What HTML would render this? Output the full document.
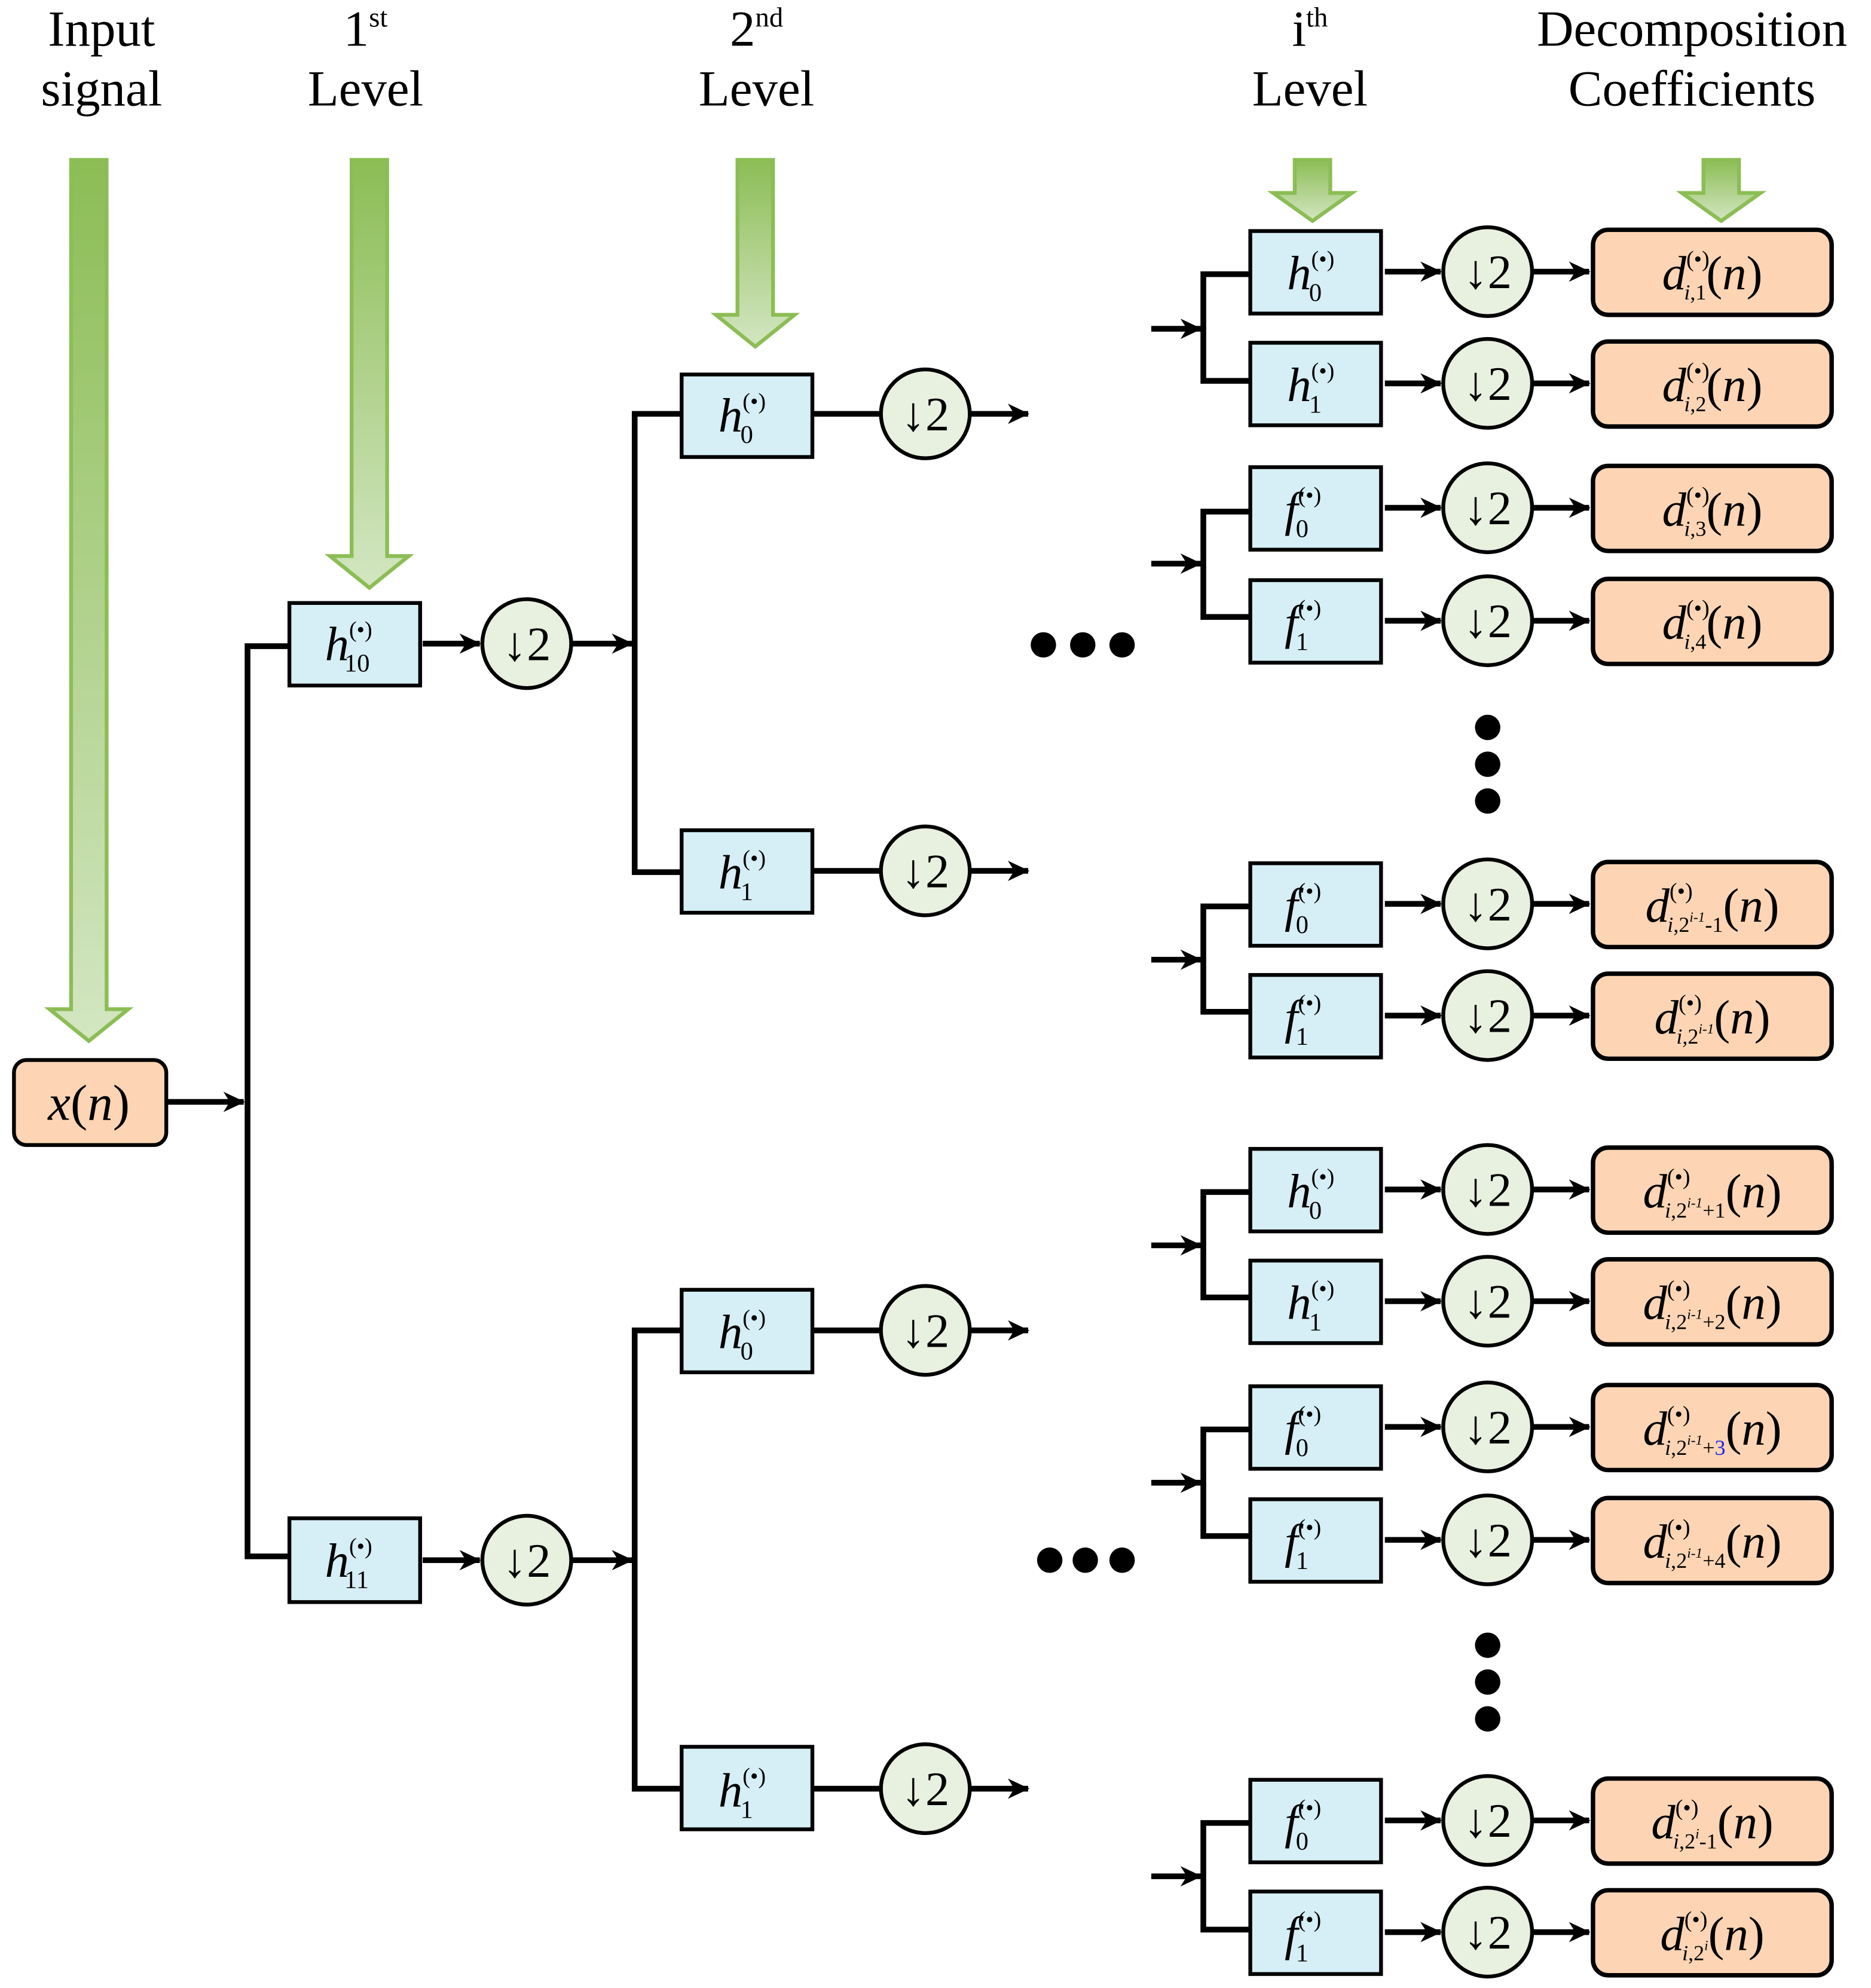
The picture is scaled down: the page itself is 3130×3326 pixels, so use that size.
<!DOCTYPE html>
<html><head><meta charset="utf-8"><style>html,body{margin:0;padding:0;background:#fff}svg{display:block}</style></head><body>
<svg xmlns="http://www.w3.org/2000/svg" width="3130" height="3326" viewBox="0 0 1474 1566" preserveAspectRatio="none" font-family="Liberation Serif, serif">
<defs>
<linearGradient id="g" x1="0" y1="0" x2="0" y2="1"><stop offset="0" stop-color="#8cbd55"/><stop offset="1" stop-color="#d3e6c2"/></linearGradient>
<marker id="a" markerUnits="userSpaceOnUse" markerWidth="20" markerHeight="20" viewBox="0 0 20 20" refX="18" refY="10" orient="auto"><path d="M2,2 L19,10 L2,18 L7,10z" fill="#000"/></marker>
</defs>
<rect width="1474" height="1566" fill="#fff"/>
<g font-size="40" text-anchor="middle" fill="#000">
<text x="80" y="36">Input</text><text x="80" y="83">signal</text>
<text x="288" y="36">1<tspan font-size="22" dy="-15">st</tspan></text><text x="288" y="83">Level</text>
<text x="596" y="36">2<tspan font-size="22" dy="-15">nd</tspan></text><text x="596" y="83">Level</text>
<text x="1032" y="36">i<tspan font-size="22" dy="-15">th</tspan></text><text x="1032" y="83">Level</text>
<text x="1333" y="36">Decomposition</text><text x="1333" y="83">Coefficients</text>
</g>
<g fill="url(#g)" stroke="#8cbd55" stroke-width="3">
<polygon points="56,126 84,126 84,795 101,795 70,820 39,795 56,795"/>
<polygon points="277,126 305,126 305,438 322,438 291,463 260,438 277,438"/>
<polygon points="581,126 609,126 609,248 626,248 595,273 564,248 581,248"/>
<polygon points="1020,126 1048,126 1048,152 1065,152 1034,174 1003,152 1020,152"/>
<polygon points="1342,126 1370,126 1370,152 1387,152 1356,174 1325,152 1342,152"/>
</g>
<g stroke="#000" stroke-width="4.5" fill="none">
<line x1="131" y1="868" x2="192" y2="868" marker-end="url(#a)"/>
<polyline points="228,509 195,509 195,1226 228,1226"/>
<line x1="333" y1="507" x2="378" y2="507" marker-end="url(#a)"/>
<line x1="451" y1="507" x2="498" y2="507" marker-end="url(#a)"/>
<line x1="333" y1="1229" x2="378" y2="1229" marker-end="url(#a)"/>
<line x1="451" y1="1229" x2="498" y2="1229" marker-end="url(#a)"/>
<polyline points="537,326 500,326 500,687 537,687"/>
<polyline points="537,1048 500,1048 500,1409 537,1409"/>
<line x1="640" y1="326" x2="694" y2="326"/><line x1="640" y1="686" x2="694" y2="686"/>
<line x1="640" y1="1048" x2="694" y2="1048"/><line x1="640" y1="1409" x2="694" y2="1409"/>
<line x1="765" y1="326" x2="810" y2="326" marker-end="url(#a)"/><line x1="765" y1="686" x2="810" y2="686" marker-end="url(#a)"/>
<line x1="765" y1="1048" x2="810" y2="1048" marker-end="url(#a)"/><line x1="765" y1="1409" x2="810" y2="1409" marker-end="url(#a)"/>
</g>
<rect x="11" y="835" width="120" height="67" rx="10" fill="#fdd5b4" stroke="#000" stroke-width="3"/>
<text x="70" y="882" font-size="40" text-anchor="middle" font-style="italic">x<tspan font-style="normal">(</tspan>n<tspan font-style="normal">)</tspan></text>
<g fill="#d6eef5" stroke="#000" stroke-width="3">
<rect x="228" y="475" width="103" height="65"/><rect x="228" y="1196" width="103" height="66"/>
<rect x="537" y="295" width="103" height="65"/><rect x="537" y="654" width="103" height="65"/>
<rect x="537" y="1016" width="103" height="65"/><rect x="537" y="1376" width="103" height="65"/>
</g>
<g fill="#e8f0df" stroke="#000" stroke-width="3">
<circle cx="415" cy="507" r="35"/><circle cx="415" cy="1229" r="35"/>
<circle cx="729" cy="326" r="35"/><circle cx="729" cy="686" r="35"/>
<circle cx="729" cy="1048" r="35"/><circle cx="729" cy="1409" r="35"/>
</g>
<g font-size="38" text-anchor="middle">
<text x="415" y="520">↓2</text><text x="415" y="1242">↓2</text>
<text x="729" y="339">↓2</text><text x="729" y="699">↓2</text><text x="729" y="1061">↓2</text><text x="729" y="1422">↓2</text>
</g>
<g font-size="38">
<text x="256" y="520" font-style="italic">h<tspan font-style="normal" font-size="18" dy="-18">(•)</tspan><tspan font-style="normal" font-size="20" dx="-22" dy="27">10</tspan></text>
<text x="256" y="1242" font-style="italic">h<tspan font-style="normal" font-size="18" dy="-18">(•)</tspan><tspan font-style="normal" font-size="20" dx="-22" dy="27">11</tspan></text>
<text x="566" y="340" font-style="italic">h<tspan font-style="normal" font-size="18" dy="-18">(•)</tspan><tspan font-style="normal" font-size="20" dx="-20" dy="27">0</tspan></text>
<text x="566" y="700" font-style="italic">h<tspan font-style="normal" font-size="18" dy="-18">(•)</tspan><tspan font-style="normal" font-size="20" dx="-20" dy="27">1</tspan></text>
<text x="566" y="1062" font-style="italic">h<tspan font-style="normal" font-size="18" dy="-18">(•)</tspan><tspan font-style="normal" font-size="20" dx="-20" dy="27">0</tspan></text>
<text x="566" y="1423" font-style="italic">h<tspan font-style="normal" font-size="18" dy="-18">(•)</tspan><tspan font-style="normal" font-size="20" dx="-20" dy="27">1</tspan></text>
</g>
<g fill="#000"><circle cx="822" cy="508" r="10"/><circle cx="853" cy="508" r="10"/><circle cx="884" cy="508" r="10"/>
<circle cx="827" cy="1229" r="10"/><circle cx="855" cy="1229" r="10"/><circle cx="884" cy="1229" r="10"/>
<circle cx="1172" cy="573" r="10"/><circle cx="1172" cy="602" r="10"/><circle cx="1172" cy="631" r="10"/>
<circle cx="1172" cy="1296" r="10"/><circle cx="1172" cy="1325" r="10"/><circle cx="1172" cy="1354" r="10"/></g>
<g stroke="#000" stroke-width="4.5" fill="none">
<line x1="907" y1="259" x2="946" y2="259" marker-end="url(#a)"/><polyline points="985,216 948,216 948,300 985,300"/>
<line x1="907" y1="444" x2="946" y2="444" marker-end="url(#a)"/><polyline points="985,403 948,403 948,486 985,486"/>
<line x1="907" y1="756" x2="946" y2="756" marker-end="url(#a)"/><polyline points="985,714 948,714 948,797 985,797"/>
<line x1="907" y1="981" x2="946" y2="981" marker-end="url(#a)"/><polyline points="985,939 948,939 948,1022 985,1022"/>
<line x1="907" y1="1168" x2="946" y2="1168" marker-end="url(#a)"/><polyline points="985,1126 948,1126 948,1210 985,1210"/>
<line x1="907" y1="1478" x2="946" y2="1478" marker-end="url(#a)"/><polyline points="985,1436 948,1436 948,1520 985,1520"/>
<g marker-end="url(#a)">
<line x1="1091" y1="214" x2="1135" y2="214"/><line x1="1208" y1="214" x2="1252" y2="214"/>
<line x1="1091" y1="302" x2="1135" y2="302"/><line x1="1208" y1="302" x2="1252" y2="302"/>
<line x1="1091" y1="400" x2="1135" y2="400"/><line x1="1208" y1="400" x2="1252" y2="400"/>
<line x1="1091" y1="489" x2="1135" y2="489"/><line x1="1208" y1="489" x2="1252" y2="489"/>
<line x1="1091" y1="712" x2="1135" y2="712"/><line x1="1208" y1="712" x2="1252" y2="712"/>
<line x1="1091" y1="800" x2="1135" y2="800"/><line x1="1208" y1="800" x2="1252" y2="800"/>
<line x1="1091" y1="937" x2="1135" y2="937"/><line x1="1208" y1="937" x2="1252" y2="937"/>
<line x1="1091" y1="1025" x2="1135" y2="1025"/><line x1="1208" y1="1025" x2="1252" y2="1025"/>
<line x1="1091" y1="1124" x2="1135" y2="1124"/><line x1="1208" y1="1124" x2="1252" y2="1124"/>
<line x1="1091" y1="1213" x2="1135" y2="1213"/><line x1="1208" y1="1213" x2="1252" y2="1213"/>
<line x1="1091" y1="1434" x2="1135" y2="1434"/><line x1="1208" y1="1434" x2="1252" y2="1434"/>
<line x1="1091" y1="1522" x2="1135" y2="1522"/><line x1="1208" y1="1522" x2="1252" y2="1522"/>
</g></g>
<g fill="#d6eef5" stroke="#000" stroke-width="3">
<rect x="985" y="182" width="103" height="65"/><rect x="985" y="270" width="103" height="65"/>
<rect x="985" y="368" width="103" height="65"/><rect x="985" y="457" width="103" height="65"/>
<rect x="985" y="680" width="103" height="65"/><rect x="985" y="768" width="103" height="65"/>
<rect x="985" y="905" width="103" height="65"/><rect x="985" y="993" width="103" height="65"/>
<rect x="985" y="1092" width="103" height="65"/><rect x="985" y="1181" width="103" height="65"/>
<rect x="985" y="1402" width="103" height="65"/><rect x="985" y="1490" width="103" height="65"/>
</g>
<g fill="#e8f0df" stroke="#000" stroke-width="3">
<circle cx="1172" cy="214" r="35"/><circle cx="1172" cy="302" r="35"/><circle cx="1172" cy="400" r="35"/><circle cx="1172" cy="489" r="35"/>
<circle cx="1172" cy="712" r="35"/><circle cx="1172" cy="800" r="35"/><circle cx="1172" cy="937" r="35"/><circle cx="1172" cy="1025" r="35"/>
<circle cx="1172" cy="1124" r="35"/><circle cx="1172" cy="1213" r="35"/><circle cx="1172" cy="1434" r="35"/><circle cx="1172" cy="1522" r="35"/>
</g>
<g fill="#fdd5b4" stroke="#000" stroke-width="3.5">
<rect x="1255" y="181" width="188" height="67" rx="12"/><rect x="1255" y="269" width="188" height="67" rx="12"/>
<rect x="1255" y="367" width="188" height="67" rx="12"/><rect x="1255" y="456" width="188" height="67" rx="12"/>
<rect x="1255" y="679" width="188" height="67" rx="12"/><rect x="1255" y="767" width="188" height="67" rx="12"/>
<rect x="1255" y="904" width="188" height="67" rx="12"/><rect x="1255" y="992" width="188" height="67" rx="12"/>
<rect x="1255" y="1091" width="188" height="67" rx="12"/><rect x="1255" y="1180" width="188" height="67" rx="12"/>
<rect x="1255" y="1401" width="188" height="67" rx="12"/><rect x="1255" y="1489" width="188" height="67" rx="12"/>
</g>
<g font-size="38" text-anchor="middle">
<text x="1172" y="227">↓2</text><text x="1172" y="315">↓2</text><text x="1172" y="413">↓2</text><text x="1172" y="502">↓2</text>
<text x="1172" y="725">↓2</text><text x="1172" y="813">↓2</text><text x="1172" y="950">↓2</text><text x="1172" y="1038">↓2</text>
<text x="1172" y="1137">↓2</text><text x="1172" y="1226">↓2</text><text x="1172" y="1447">↓2</text><text x="1172" y="1535">↓2</text>
</g>
<g font-size="38" font-style="italic">
<text x="1014" y="228">h<tspan font-style="normal" font-size="18" dy="-18">(•)</tspan><tspan font-style="normal" font-size="20" dx="-20" dy="27">0</tspan></text>
<text x="1014" y="316">h<tspan font-style="normal" font-size="18" dy="-18">(•)</tspan><tspan font-style="normal" font-size="20" dx="-20" dy="27">1</tspan></text>
<text x="1012" y="414">f<tspan font-style="normal" font-size="18" dy="-18">(•)</tspan><tspan font-style="normal" font-size="20" dx="-20" dy="27">0</tspan></text>
<text x="1012" y="503">f<tspan font-style="normal" font-size="18" dy="-18">(•)</tspan><tspan font-style="normal" font-size="20" dx="-20" dy="27">1</tspan></text>
<text x="1012" y="726">f<tspan font-style="normal" font-size="18" dy="-18">(•)</tspan><tspan font-style="normal" font-size="20" dx="-20" dy="27">0</tspan></text>
<text x="1012" y="814">f<tspan font-style="normal" font-size="18" dy="-18">(•)</tspan><tspan font-style="normal" font-size="20" dx="-20" dy="27">1</tspan></text>
<text x="1014" y="951">h<tspan font-style="normal" font-size="18" dy="-18">(•)</tspan><tspan font-style="normal" font-size="20" dx="-20" dy="27">0</tspan></text>
<text x="1014" y="1039">h<tspan font-style="normal" font-size="18" dy="-18">(•)</tspan><tspan font-style="normal" font-size="20" dx="-20" dy="27">1</tspan></text>
<text x="1012" y="1138">f<tspan font-style="normal" font-size="18" dy="-18">(•)</tspan><tspan font-style="normal" font-size="20" dx="-20" dy="27">0</tspan></text>
<text x="1012" y="1227">f<tspan font-style="normal" font-size="18" dy="-18">(•)</tspan><tspan font-style="normal" font-size="20" dx="-20" dy="27">1</tspan></text>
<text x="1012" y="1448">f<tspan font-style="normal" font-size="18" dy="-18">(•)</tspan><tspan font-style="normal" font-size="20" dx="-20" dy="27">0</tspan></text>
<text x="1012" y="1536">f<tspan font-style="normal" font-size="18" dy="-18">(•)</tspan><tspan font-style="normal" font-size="20" dx="-20" dy="27">1</tspan></text>
</g>
<g font-size="38" font-style="italic" text-anchor="middle">
<text x="1349" y="228">d<tspan font-style="normal" font-size="18" dy="-18">(•)</tspan><tspan font-size="17" dx="-20" dy="26">i<tspan font-style="normal">,1</tspan></tspan><tspan font-style="normal" dy="-8">(</tspan>n<tspan font-style="normal">)</tspan></text>
<text x="1349" y="316">d<tspan font-style="normal" font-size="18" dy="-18">(•)</tspan><tspan font-size="17" dx="-20" dy="26">i<tspan font-style="normal">,2</tspan></tspan><tspan font-style="normal" dy="-8">(</tspan>n<tspan font-style="normal">)</tspan></text>
<text x="1349" y="414">d<tspan font-style="normal" font-size="18" dy="-18">(•)</tspan><tspan font-size="17" dx="-20" dy="26">i<tspan font-style="normal">,3</tspan></tspan><tspan font-style="normal" dy="-8">(</tspan>n<tspan font-style="normal">)</tspan></text>
<text x="1349" y="503">d<tspan font-style="normal" font-size="18" dy="-18">(•)</tspan><tspan font-size="17" dx="-20" dy="26">i<tspan font-style="normal">,4</tspan></tspan><tspan font-style="normal" dy="-8">(</tspan>n<tspan font-style="normal">)</tspan></text>
<text x="1349" y="726">d<tspan font-style="normal" font-size="18" dy="-18">(•)</tspan><tspan font-size="17" dx="-20" dy="26">i<tspan font-style="normal">,2</tspan><tspan font-size="11" dy="-8">i-1</tspan><tspan font-style="normal" dy="8">-1</tspan></tspan><tspan font-style="normal" dy="-8">(</tspan>n<tspan font-style="normal">)</tspan></text>
<text x="1349" y="814">d<tspan font-style="normal" font-size="18" dy="-18">(•)</tspan><tspan font-size="17" dx="-20" dy="26">i<tspan font-style="normal">,2</tspan><tspan font-size="11" dy="-8">i-1</tspan></tspan><tspan font-style="normal" dy="0">(</tspan>n<tspan font-style="normal">)</tspan></text>
<text x="1349" y="951">d<tspan font-style="normal" font-size="18" dy="-18">(•)</tspan><tspan font-size="17" dx="-20" dy="26">i<tspan font-style="normal">,2</tspan><tspan font-size="11" dy="-8">i-1</tspan><tspan font-style="normal" dy="8">+1</tspan></tspan><tspan font-style="normal" dy="-8">(</tspan>n<tspan font-style="normal">)</tspan></text>
<text x="1349" y="1039">d<tspan font-style="normal" font-size="18" dy="-18">(•)</tspan><tspan font-size="17" dx="-20" dy="26">i<tspan font-style="normal">,2</tspan><tspan font-size="11" dy="-8">i-1</tspan><tspan font-style="normal" dy="8">+2</tspan></tspan><tspan font-style="normal" dy="-8">(</tspan>n<tspan font-style="normal">)</tspan></text>
<text x="1349" y="1138">d<tspan font-style="normal" font-size="18" dy="-18">(•)</tspan><tspan font-size="17" dx="-20" dy="26">i<tspan font-style="normal">,2</tspan><tspan font-size="11" dy="-8">i-1</tspan><tspan font-style="normal" dy="8">+<tspan fill="#22e">3</tspan></tspan></tspan><tspan font-style="normal" dy="-8">(</tspan>n<tspan font-style="normal">)</tspan></text>
<text x="1349" y="1227">d<tspan font-style="normal" font-size="18" dy="-18">(•)</tspan><tspan font-size="17" dx="-20" dy="26">i<tspan font-style="normal">,2</tspan><tspan font-size="11" dy="-8">i-1</tspan><tspan font-style="normal" dy="8">+4</tspan></tspan><tspan font-style="normal" dy="-8">(</tspan>n<tspan font-style="normal">)</tspan></text>
<text x="1349" y="1448">d<tspan font-style="normal" font-size="18" dy="-18">(•)</tspan><tspan font-size="17" dx="-20" dy="26">i<tspan font-style="normal">,2</tspan><tspan font-size="11" dy="-8">i</tspan><tspan font-style="normal" dy="8">-1</tspan></tspan><tspan font-style="normal" dy="-8">(</tspan>n<tspan font-style="normal">)</tspan></text>
<text x="1349" y="1536">d<tspan font-style="normal" font-size="18" dy="-18">(•)</tspan><tspan font-size="17" dx="-20" dy="26">i<tspan font-style="normal">,2</tspan><tspan font-size="11" dy="-8">i</tspan></tspan><tspan font-style="normal" dy="0">(</tspan>n<tspan font-style="normal">)</tspan></text>
</g>
</svg>
</body></html>
